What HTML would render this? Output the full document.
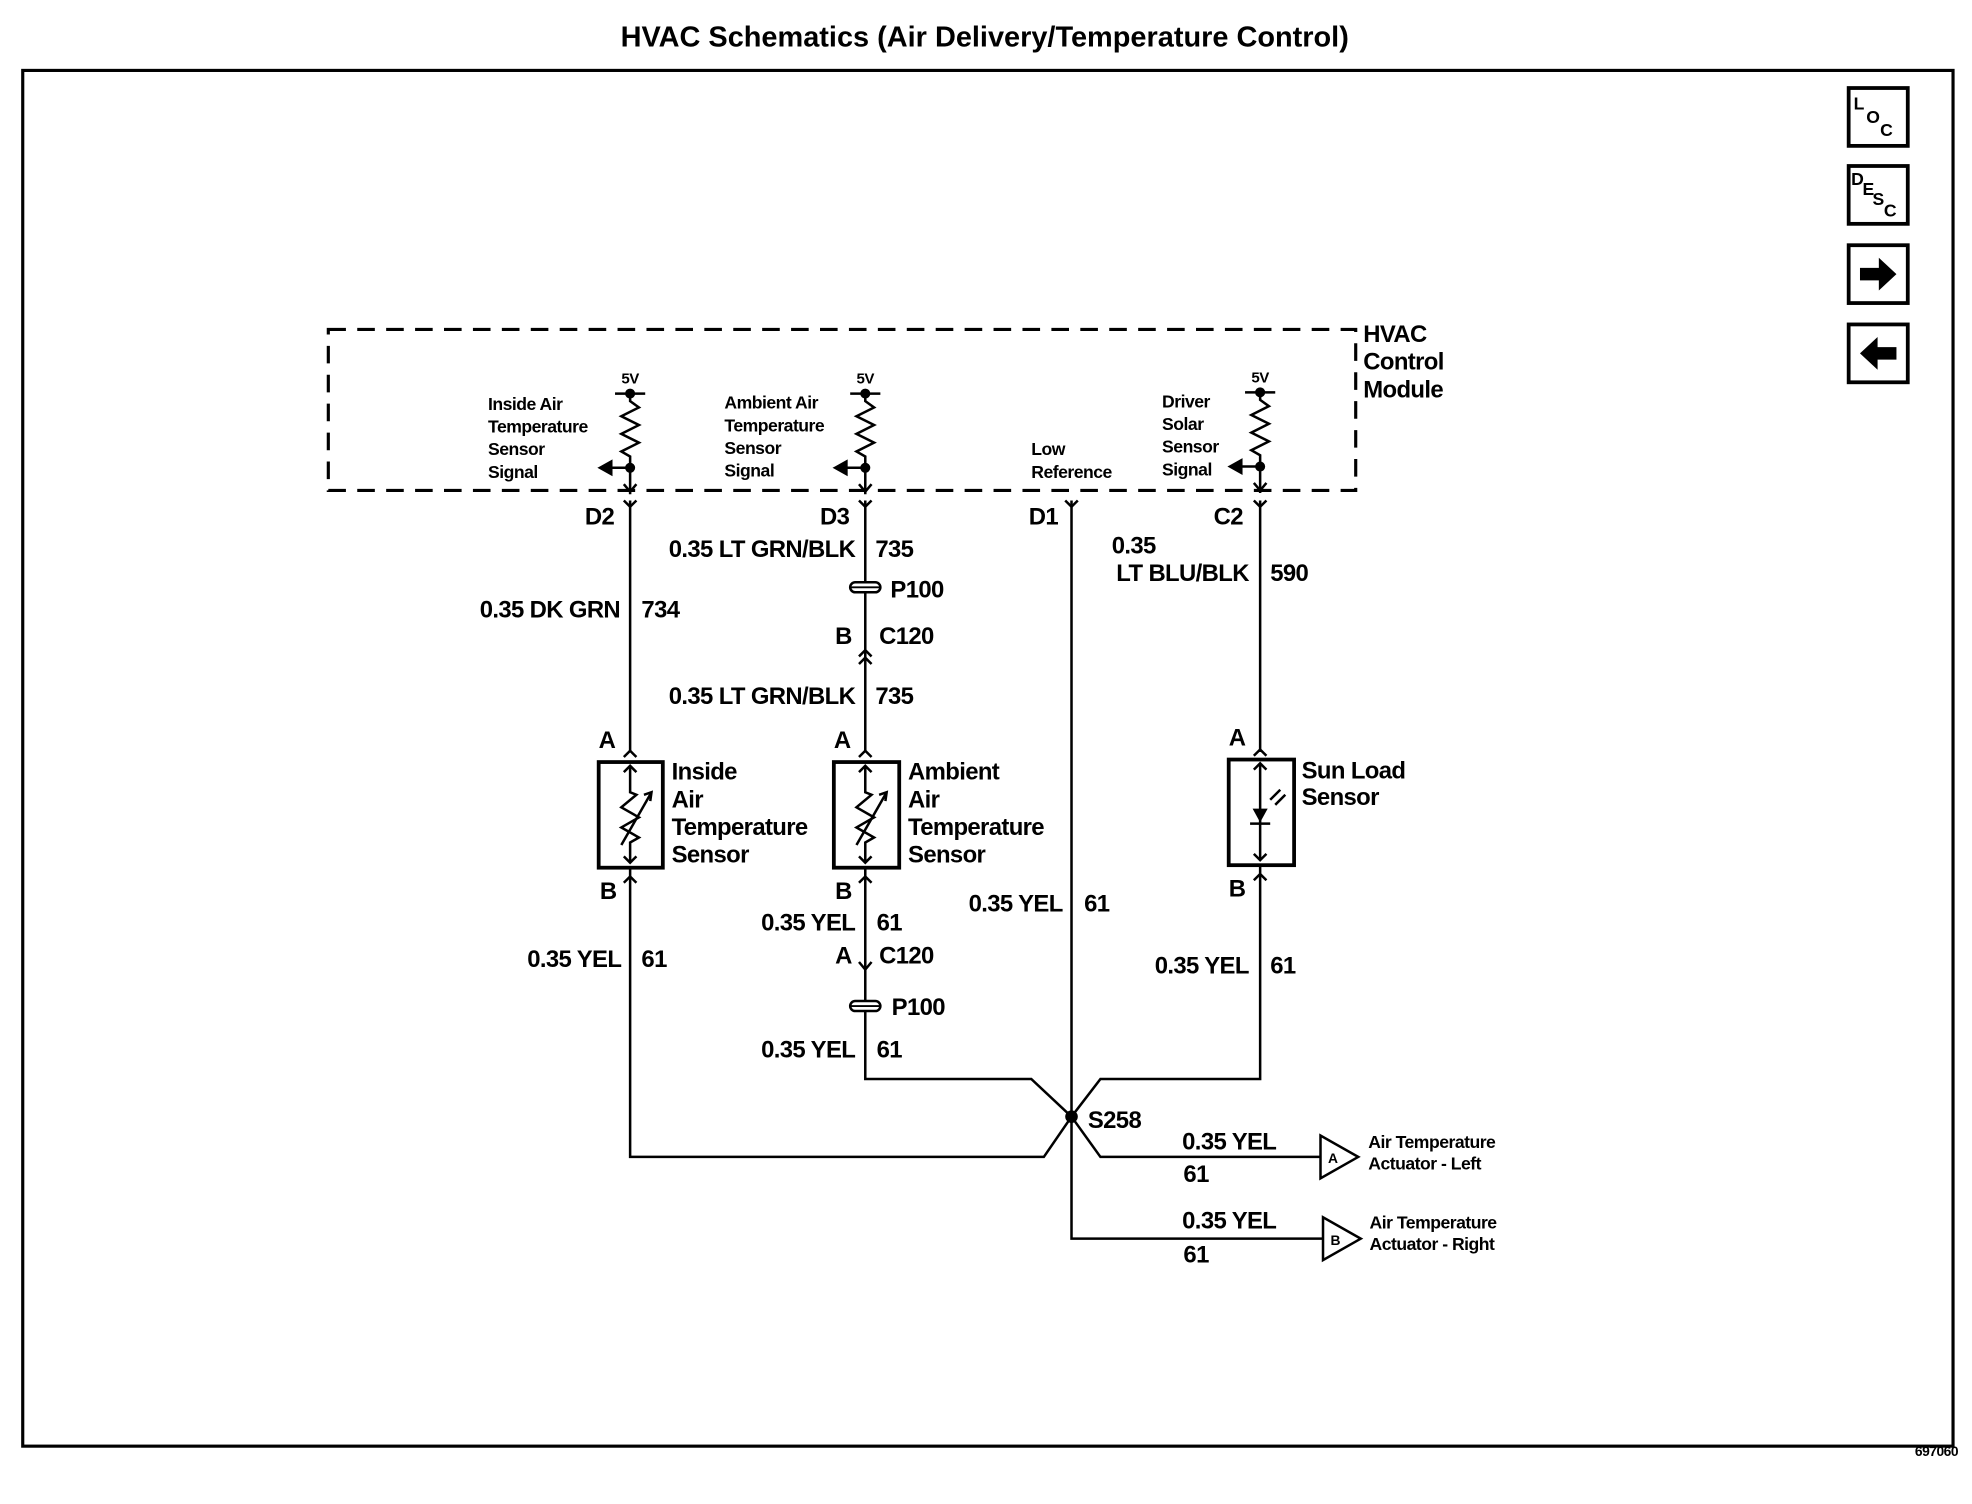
<!DOCTYPE html>
<html><head><meta charset="utf-8"><style>
html,body{margin:0;padding:0;background:#fff}
svg{display:block}
text{font-family:"Liberation Sans",Arial,sans-serif;fill:#000}
.b{font-size:19px;font-weight:bold;letter-spacing:-0.5px}
.s{font-size:14px;font-weight:bold;letter-spacing:-0.4px}
</style></head><body>
<svg width="1972" height="1504" viewBox="0 0 1568 1196" xmlns="http://www.w3.org/2000/svg">
<defs>
<g id="res" fill="none" stroke="#000" stroke-width="2">
<line x1="-12" y1="0" x2="12" y2="0"/>
<circle cx="0" cy="0" r="3" fill="#000"/>
<polyline points="0,0 0,6 7,11 -7,18 7,25 -7,32 7,39 -7,46 0,50 0,80"/>
<circle cx="0" cy="59" r="3" fill="#000"/>
<line x1="0" y1="59" x2="-18" y2="59"/>
<polygon points="-24,59 -15,54 -15,64" fill="#000"/>
<polyline points="-5,72 0,78 5,72"/>
</g>
<g id="pin" fill="none" stroke="#000" stroke-width="2"><polyline points="-5,-5 0,0 5,-5"/></g>
</defs>
<text x="783" y="37" text-anchor="middle" style="font-size:23px;font-weight:bold;letter-spacing:0px">HVAC Schematics (Air Delivery/Temperature Control)</text>
<rect x="18" y="56" width="1535" height="1094" fill="none" stroke="#000" stroke-width="2.5"/>
<text x="1557" y="1158" text-anchor="end" class="s" style="font-size:11px">697060</text>

<g fill="none" stroke="#000" stroke-width="3">
<rect x="1470" y="70" width="47" height="46"/><rect x="1470" y="132" width="47" height="46"/>
<rect x="1470" y="195" width="47" height="46"/><rect x="1470" y="258" width="47" height="46"/>
</g>
<text x="1474" y="87" class="s">L</text><text x="1484" y="98" class="s">O</text><text x="1495" y="108" class="s">C</text>
<text x="1472" y="147" class="s">D</text><text x="1481" y="155" class="s">E</text><text x="1489" y="163" class="s">S</text><text x="1498" y="172" class="s">C</text>
<polygon points="1479,213 1494,213 1494,205 1508,218 1494,231 1494,223 1479,223" fill="#000"/>
<polygon points="1508,276 1493,276 1493,268 1479,281 1493,294 1493,286 1508,286" fill="#000"/>

<rect x="261" y="262" width="817" height="128" fill="none" stroke="#000" stroke-width="2.5" stroke-dasharray="14,9"/>
<text x="1084" y="272" class="b">HVAC</text><text x="1084" y="294" class="b">Control</text><text x="1084" y="316" class="b">Module</text>

<use href="#res" x="501" y="313"/><use href="#res" x="688" y="313"/><use href="#res" x="1002" y="312"/>
<text x="501" y="305" text-anchor="middle" class="s" style="font-size:12px">5V</text><text x="688" y="305" text-anchor="middle" class="s" style="font-size:12px">5V</text><text x="1002" y="304" text-anchor="middle" class="s" style="font-size:12px">5V</text>
<g class="s"><text x="388" y="326">Inside Air</text><text x="388" y="344">Temperature</text><text x="388" y="362">Sensor</text><text x="388" y="380">Signal</text>
<text x="576" y="325">Ambient Air</text><text x="576" y="343">Temperature</text><text x="576" y="361">Sensor</text><text x="576" y="379">Signal</text>
<text x="820" y="362">Low</text><text x="820" y="380">Reference</text>
<text x="924" y="324">Driver</text><text x="924" y="342">Solar</text><text x="924" y="360">Sensor</text><text x="924" y="378">Signal</text></g>

<use href="#pin" x="501" y="403"/><use href="#pin" x="688" y="403"/><use href="#pin" x="852" y="403"/><use href="#pin" x="1002" y="403"/>
<g class="b"><text x="465" y="417">D2</text><text x="652" y="417">D3</text><text x="818" y="417">D1</text><text x="965" y="417">C2</text></g>

<g fill="none" stroke="#000" stroke-width="2">
<polyline points="501,398 501,598"/><polyline points="496,602 501,597 506,602"/>
<polyline points="501,690 501,920 830,920 852,888"/>
<polyline points="688,398 688,598"/><polyline points="683,602 688,597 693,602"/>
<polyline points="683,522 688,517 693,522"/><polyline points="683,528 688,523 693,528"/>
<polyline points="688,690 688,858 820,858 852,888"/>
<polyline points="683,765 688,771 693,765"/><polyline points="683,702 688,697 693,702"/>
<polyline points="852,398 852,985 1052,985"/>
<polyline points="852,888 875,920 1050,920"/>
<polyline points="1002,398 1002,598"/><polyline points="997,601 1002,596 1007,601"/>
<polyline points="1002,688 1002,858 875,858 852,888"/>
<polyline points="496,702 501,697 506,702"/><polyline points="997,700 1002,695 1007,700"/>
</g>
<circle cx="852" cy="888" r="5" fill="#000"/>
<g fill="#fff" stroke="#000" stroke-width="2"><rect x="676" y="463" width="24" height="8" rx="4"/><rect x="676" y="796" width="24" height="8" rx="4"/></g>
<line x1="676" y1="467" x2="700" y2="467" stroke="#000" stroke-width="1.5"/><line x1="676" y1="800" x2="700" y2="800" stroke="#000" stroke-width="1.5"/>

<g fill="none" stroke="#000" stroke-width="3">
<rect x="476" y="606" width="51" height="84"/><rect x="663" y="606" width="52" height="84"/><rect x="977" y="604" width="52" height="84"/>
</g>
<g fill="none" stroke="#000" stroke-width="2">
<polyline points="496,614 501,609 506,614"/><polyline points="501,609 501,630 506,632 494,642 508,650 494,658 508,666 501,670 501,686"/><polyline points="496,681 501,686 506,681"/><line x1="494" y1="672" x2="518" y2="630"/><polyline points="512,632 518,630 517,637"/>
<polyline points="683,614 688,609 693,614"/><polyline points="688,609 688,630 693,632 681,642 695,650 681,658 695,666 688,670 688,686"/><polyline points="683,681 688,686 693,681"/><line x1="681" y1="672" x2="705" y2="630"/><polyline points="699,632 705,630 704,637"/>
<polyline points="997,612 1002,607 1007,612"/><line x1="1002" y1="607" x2="1002" y2="684"/><polyline points="997,679 1002,684 1007,679"/>
<line x1="994" y1="655" x2="1010" y2="655"/><line x1="1010" y1="636" x2="1018" y2="628"/><line x1="1014" y1="640" x2="1022" y2="632"/>
</g>
<polygon points="996,643 1008,643 1002,654" fill="#000"/>

<g class="b">
<text x="476" y="595">A</text><text x="663" y="595">A</text><text x="977" y="593">A</text>
<text x="477" y="715">B</text><text x="664" y="715">B</text><text x="977" y="713">B</text>
<text x="534" y="620">Inside</text><text x="534" y="642">Air</text><text x="534" y="664">Temperature</text><text x="534" y="686">Sensor</text>
<text x="722" y="620">Ambient</text><text x="722" y="642">Air</text><text x="722" y="664">Temperature</text><text x="722" y="686">Sensor</text>
<text x="1035" y="619">Sun Load</text><text x="1035" y="640">Sensor</text>
<text x="680" y="443" text-anchor="end">0.35 LT GRN/BLK</text><text x="696" y="443">735</text>
<text x="708" y="475">P100</text>
<text x="664" y="512">B</text><text x="699" y="512">C120</text>
<text x="680" y="560" text-anchor="end">0.35 LT GRN/BLK</text><text x="696" y="560">735</text>
<text x="493" y="491" text-anchor="end">0.35 DK GRN</text><text x="510" y="491">734</text>
<text x="884" y="440">0.35</text><text x="993" y="462" text-anchor="end">LT BLU/BLK</text><text x="1010" y="462">590</text>
<text x="680" y="740" text-anchor="end">0.35 YEL</text><text x="697" y="740">61</text>
<text x="664" y="766">A</text><text x="699" y="766">C120</text>
<text x="709" y="807">P100</text>
<text x="680" y="841" text-anchor="end">0.35 YEL</text><text x="697" y="841">61</text>
<text x="494" y="769" text-anchor="end">0.35 YEL</text><text x="510" y="769">61</text>
<text x="845" y="725" text-anchor="end">0.35 YEL</text><text x="862" y="725">61</text>
<text x="993" y="774" text-anchor="end">0.35 YEL</text><text x="1010" y="774">61</text>
<text x="865" y="897">S258</text>
<text x="940" y="914">0.35 YEL</text><text x="941" y="940">61</text>
<text x="940" y="977">0.35 YEL</text><text x="941" y="1004">61</text>
</g>
<g fill="#fff" stroke="#000" stroke-width="2"><polygon points="1050,903 1050,937 1080,920"/><polygon points="1052,968 1052,1002 1082,985"/></g>
<text x="1056" y="925" class="s" style="font-size:11px">A</text><text x="1058" y="990" class="s" style="font-size:11px">B</text>
<g class="s"><text x="1088" y="913">Air Temperature</text><text x="1088" y="930">Actuator - Left</text>
<text x="1089" y="977">Air Temperature</text><text x="1089" y="994">Actuator - Right</text></g>
</svg>
</body></html>
